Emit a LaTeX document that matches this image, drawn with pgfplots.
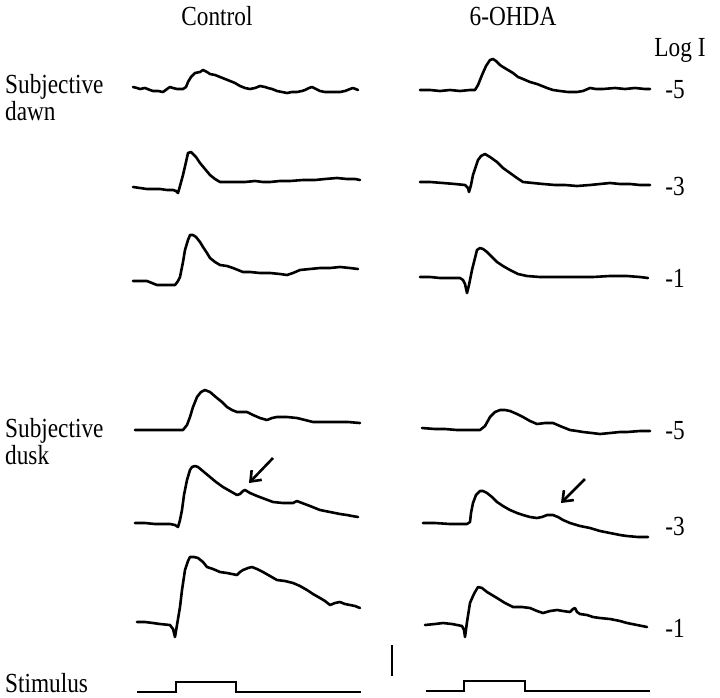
\documentclass[border=0pt]{standalone}
\usepackage{fontspec}
\setmainfont{Liberation Serif}
\usepackage{graphicx}
\usepackage{pgfplots}
\pgfplotsset{compat=1.18}
\usetikzlibrary{arrows.meta}
\newcommand{\T}[1]{\scalebox{0.97}[1.15]{\fontsize{24bp}{29bp}\selectfont #1}}
\pgfplotsset{tr/.style={black, solid, line width=2.6bp, line join=round, line cap=round, mark=none}}
\begin{document}
\begin{tikzpicture}
\begin{axis}[
  scale only axis, width=720bp, height=697bp,
  xmin=0, xmax=720, ymin=0, ymax=697, y dir=reverse,
  axis lines=none, clip=false, no markers,
]
\path (axis cs:0,0) rectangle (axis cs:720,697);
% Control dawn -5
\addplot[tr] coordinates {(133,87)(137,88)(140,89)(145,88)(150,90)(153,91)(158,91)(163,92)(167,89)(170,87)(173,88)(177,89)(183,89)(186,87)(188,82)(191,77)(195,73)(200,72)(203,70)(207,72)(210,74)(215,75)(220,77)(225,79)(230,81)(235,83)(240,86)(245,88)(250,89)(255,88)(260,86)(265,87)(268,88)(272,89)(277,91)(282,92)(287,93)(292,92)(297,92)(302,91)(305,90)(309,88)(312,87)(316,89)(320,91)(325,92)(330,92)(335,92)(340,92)(345,91)(350,89)(353,88)(358,90)};
% 6-OHDA dawn -5
\addplot[tr] coordinates {(420,90)(430,90)(440,91)(450,90)(460,91)(470,90)(475,90)(478,85)(482,75)(486,66)(490,60)(493,59)(496,61)(500,65)(503,67)(508,70)(513,73)(518,77)(523,79)(530,82)(537,84)(542,86)(547,88)(553,90)(560,91)(568,92)(577,92)(583,91)(590,88)(596,89)(603,89)(615,88)(625,89)(635,88)(645,89)(650,89)};
% Control dawn -3
\addplot[tr] coordinates {(133,187)(140,188)(147,189)(153,189)(160,189)(167,190)(173,190)(176,191)(178,193)(180,186)(183,175)(186,162)(188,153)(191,152)(193,154)(196,157)(200,163)(205,169)(210,175)(215,179)(220,182)(230,182)(237,182)(245,182)(255,181)(263,182)(270,182)(280,181)(290,181)(303,180)(315,180)(325,179)(337,178)(347,179)(355,179)(360,180)};
% Control dawn -1
\addplot[tr] coordinates {(133,281)(140,281)(147,281)(152,283)(157,285)(163,285)(170,285)(175,285)(178,281)(180,277)(183,262)(185,250)(188,240)(190,235)(193,235)(196,237)(200,242)(203,247)(207,253)(210,258)(215,262)(220,265)(227,266)(233,268)(238,270)(243,272)(250,272)(260,273)(270,273)(280,274)(287,275)(293,273)(300,270)(310,269)(320,268)(330,268)(340,267)(350,268)(358,269)};
% 6-OHDA dawn -3
\addplot[tr] coordinates {(420,182)(430,182)(443,183)(455,184)(465,185)(468,188)(469,192)(471,185)(473,175)(476,166)(478,160)(481,156)(485,154)(490,157)(497,162)(503,168)(510,173)(517,178)(523,182)(533,183)(543,184)(555,185)(565,185)(577,186)(590,185)(600,184)(610,183)(620,184)(630,184)(640,185)(650,185)};
% 6-OHDA dawn -1
\addplot[tr] coordinates {(420,277)(430,277)(440,278)(450,278)(460,278)(463,280)(465,284)(467,293)(469,285)(472,270)(475,258)(477,250)(480,248)(483,249)(487,252)(492,257)(497,262)(503,266)(510,270)(518,274)(527,276)(540,277)(550,277)(560,277)(575,277)(593,277)(610,276)(627,276)(640,277)(648,278)};
% Control dusk -5
\addplot[tr] coordinates {(135,430)(145,430)(160,430)(170,430)(183,430)(187,425)(190,417)(193,407)(197,397)(201,392)(205,390)(210,392)(217,398)(222,402)(227,407)(232,410)(237,412)(242,412)(247,412)(253,415)(260,418)(267,420)(272,418)(277,417)(287,417)(297,418)(305,420)(313,422)(325,422)(337,422)(348,422)(360,423)};
% Control dusk -3
\addplot[tr] coordinates {(135,523)(145,523)(155,524)(165,524)(170,524)(175,525)(178,527)(180,520)(182,510)(184,495)(187,480)(190,470)(192,467)(195,466)(198,467)(204,472)(210,477)(216,482)(223,487)(230,491)(237,495)(240,494)(243,491)(245,490)(250,493)(257,496)(265,499)(273,502)(283,503)(293,503)(297,501)(302,503)(310,506)(320,510)(330,512)(340,514)(347,515)(352,516)(358,517)};
% Control dusk -1
\addplot[tr] coordinates {(137,622)(145,622)(153,623)(160,624)(170,625)(173,629)(175,637)(177,625)(180,607)(182,590)(185,570)(188,561)(190,557)(194,557)(198,558)(203,562)(207,567)(213,569)(220,572)(227,573)(232,574)(237,575)(240,572)(243,570)(248,568)(252,567)(257,569)(263,572)(270,576)(277,580)(285,581)(293,583)(300,586)(307,590)(313,594)(320,598)(325,601)(330,605)(335,603)(340,602)(345,604)(350,605)(355,606)(360,608)};
% 6-OHDA dusk -5
\addplot[tr] coordinates {(422,428)(435,429)(445,429)(457,430)(470,430)(480,430)(485,426)(490,417)(495,412)(500,410)(505,410)(510,411)(517,414)(523,417)(530,421)(537,424)(545,423)(553,423)(560,426)(570,430)(577,431)(583,432)(592,433)(600,434)(610,433)(620,432)(627,432)(640,431)(650,431)};
% 6-OHDA dusk -3
\addplot[tr] coordinates {(423,523)(435,523)(450,524)(460,524)(467,524)(470,522)(471,513)(473,503)(476,495)(480,491)(483,491)(487,493)(492,497)(497,502)(503,506)(510,510)(517,513)(523,515)(530,517)(537,518)(542,517)(547,515)(553,515)(558,517)(563,520)(570,523)(580,526)(590,528)(600,531)(610,533)(620,535)(627,536)(638,537)(648,537)};
% 6-OHDA dusk -1
\addplot[tr] coordinates {(425,625)(435,624)(443,623)(452,624)(462,626)(464,630)(465,637)(467,622)(470,603)(473,596)(475,592)(478,587)(482,588)(487,592)(492,595)(497,598)(505,603)(513,607)(522,607)(530,608)(537,611)(543,613)(550,611)(557,610)(563,611)(570,612)(573,609)(575,608)(577,612)(580,614)(587,615)(593,617)(600,618)(610,619)(620,621)(627,623)(637,625)(647,627)};
% arrows
\addplot[black, solid, line width=2.6bp, -{Straight Barb[length=9bp,width=14bp,line width=2.6bp]}] coordinates {(273,458)(249,483)};
\addplot[black, solid, line width=2.6bp, -{Straight Barb[length=9bp,width=14bp,line width=2.6bp]}] coordinates {(585,479)(561,503)};
% stimulus
\addplot[black, solid, line width=1.6bp, line join=miter, line cap=butt] coordinates {(137,692)(176,692)(176,682)(236,682)(236,692)(361,692)};
\addplot[black, solid, line width=1.6bp, line join=miter, line cap=butt] coordinates {(426,691)(464,691)(464,681)(525,681)(525,691)(650,691)};
% scale bar
\addplot[black, solid, line width=1.8bp, line cap=butt] coordinates {(392,645)(392,676)};
% texts
\node[anchor=base] at (axis cs:217,26) {\T{Control}};
\node[anchor=base] at (axis cs:513,26) {\T{6-OHDA}};
\node[anchor=base] at (axis cs:680,57) {\T{Log I}};
\node[anchor=base west, inner sep=0pt] at (axis cs:5,93) {\T{Subjective}};
\node[anchor=base west, inner sep=0pt] at (axis cs:5,120) {\T{dawn}};
\node[anchor=base west, inner sep=0pt] at (axis cs:5,437) {\T{Subjective}};
\node[anchor=base west, inner sep=0pt] at (axis cs:5,464) {\T{dusk}};
\node[anchor=base west, inner sep=0pt] at (axis cs:5,692) {\T{Stimulus}};
\node[anchor=center] at (axis cs:675,90) {\T{-5}};
\node[anchor=center] at (axis cs:675,186) {\T{-3}};
\node[anchor=center] at (axis cs:675,278) {\T{-1}};
\node[anchor=center] at (axis cs:675,431) {\T{-5}};
\node[anchor=center] at (axis cs:675,526) {\T{-3}};
\node[anchor=center] at (axis cs:675,628) {\T{-1}};
\end{axis}
\end{tikzpicture}
\end{document}
